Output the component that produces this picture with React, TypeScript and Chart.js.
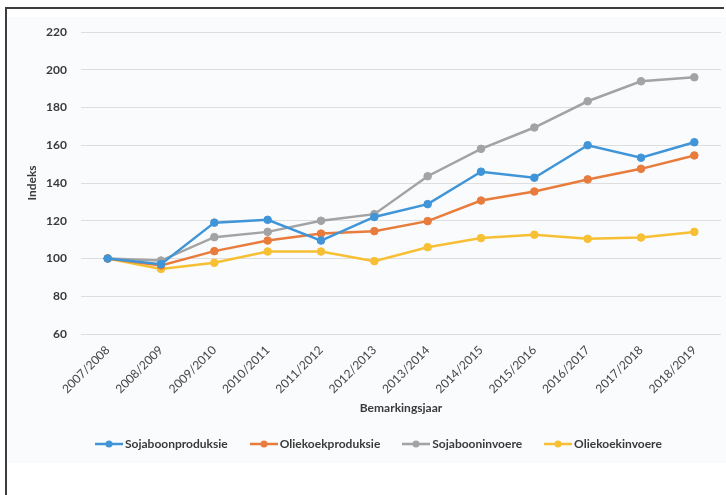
import React, { useEffect, useRef } from "react";
import { Chart, registerables } from "chart.js";

Chart.register(...registerables);

const categories = [
  "2007/2008", "2008/2009", "2009/2010", "2010/2011", "2011/2012", "2012/2013",
  "2013/2014", "2014/2015", "2015/2016", "2016/2017", "2017/2018", "2018/2019",
];
const sojaboonproduksie = [100, 97, 119, 120.5, 109.5, 122, 128.8, 146, 142.8, 160, 153.4, 161.6];
const oliekoekproduksie = [100, 96.3, 103.9, 109.5, 113.2, 114.5, 119.8, 130.7, 135.5, 141.9, 147.5, 154.6];
const sojabooninvoere = [100, 98.9, 111.3, 114.1, 120, 123.5, 143.6, 158.1, 169.4, 183.3, 193.9, 196];
const oliekoekinvoere = [100, 94.5, 97.7, 103.7, 103.7, 98.6, 106, 110.8, 112.6, 110.4, 111.1, 114.1];
const yTicks = [60, 80, 100, 120, 140, 160, 180, 200, 220];

const seriesNames = ["Sojaboonproduksie", "Oliekoekproduksie", "Sojabooninvoere", "Oliekoekinvoere"];
const seriesValues = [sojaboonproduksie, oliekoekproduksie, sojabooninvoere, oliekoekinvoere];
const seriesColors = ["#3f95d7", "#e87c3c", "#a3a3a3", "#f7bf33"];

const FONT = "Lato, 'Open Sans', sans-serif";
const TEXT = "#3a3a3a";

export default function App() {
  const ref = useRef<HTMLCanvasElement | null>(null);

  useEffect(() => {
    if (!ref.current) return;
    const chart = new Chart(ref.current, {
      type: "line",
      data: {
        labels: categories,
        datasets: seriesValues.map((vals, i) => ({
          label: seriesNames[i],
          data: vals,
          borderColor: seriesColors[i],
          backgroundColor: seriesColors[i],
          pointBackgroundColor: seriesColors[i],
          pointBorderColor: seriesColors[i],
          borderWidth: 2.5,
          pointRadius: 3.8,
          pointBorderWidth: 1,
          tension: 0,
        })),
      },
      options: {
        responsive: false,
        animation: false,
        layout: { padding: { left: 21, right: 4, top: 32, bottom: 76 } },
        plugins: {
          legend: { display: false },
          tooltip: { enabled: false },
        },
        scales: {
          x: {
            offset: true,
            afterFit: (scale: any) => {
              scale.height = 85;
            },
            grid: { display: false, drawTicks: false },
            border: { display: false },
            ticks: {
              minRotation: 45,
              maxRotation: 45,
              padding: 9,
              color: "#444444",
              font: { family: FONT, size: 12, weight: "normal" },
            },
            title: {
              display: true,
              text: "Bemarkingsjaar",
              color: TEXT,
              font: { family: FONT, size: 12, weight: "bold" },
              padding: { top: 4, bottom: 4 },
            },
          },
          y: {
            min: 60,
            max: 220,
            afterFit: (scale: any) => {
              scale.width = 60;
            },
            afterBuildTicks: (scale: any) => {
              scale.ticks = yTicks.map((v) => ({ value: v }));
            },
            grid: { color: "#dedede", lineWidth: 1, drawTicks: false },
            border: { display: false },
            ticks: {
              padding: 14,
              color: TEXT,
              font: { family: FONT, size: 12, weight: "bold" },
            },
            title: {
              display: true,
              text: "Indeks",
              color: TEXT,
              font: { family: FONT, size: 12, weight: "bold" },
              padding: { top: 4, bottom: 4 },
            },
          },
        },
      },
    });
    return () => chart.destroy();
  }, []);

  return (
    <div style={{ position: "fixed", left: 0, top: 0, width: 726, height: 495, overflow: "hidden", background: "#ffffff" }}>
      <div style={{ position: "absolute", left: 8, top: 17, width: 718, height: 446, background: "#fafbfd" }} />
      <div
        style={{
          position: "absolute",
          left: 5,
          top: 7,
          width: 719,
          height: 488,
          borderTop: "2px solid #3c3c3c",
          borderLeft: "2px solid #3c3c3c",
          boxSizing: "border-box",
        }}
      />
      <canvas ref={ref} width={726} height={495} style={{ position: "absolute", left: 0, top: 0, width: 726, height: 495 }} />
      <div
        style={{
          position: "absolute",
          left: 95,
          top: 436,
          display: "flex",
          alignItems: "center",
          fontFamily: FONT,
          fontSize: 12,
          fontWeight: "bold",
          color: TEXT,
          whiteSpace: "nowrap",
        }}
      >
        {seriesNames.map((name, i) => (
          <div key={name} style={{ display: "flex", alignItems: "center", marginRight: 22 }}>
            <svg width={30} height={10} style={{ display: "block" }}>
              <line x1={0} y1={5} x2={28} y2={5} stroke={seriesColors[i]} strokeWidth={2.5} />
              <circle cx={14} cy={5} r={3.5} fill={seriesColors[i]} />
            </svg>
            <span>{name}</span>
          </div>
        ))}
      </div>
    </div>
  );
}
